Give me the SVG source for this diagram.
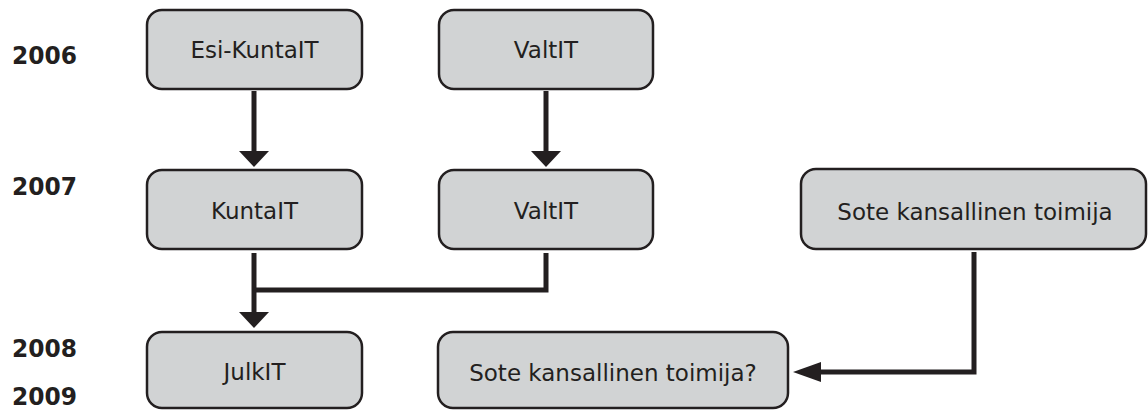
<svg xmlns="http://www.w3.org/2000/svg" width="1148" height="410" viewBox="0 0 1148 410">
<style>
.box{fill:#d1d3d4;stroke:#231f20;stroke-width:2.5}
.lbl{font-family:"DejaVu Sans",Verdana,sans-serif;font-size:23px;fill:#231f20;text-anchor:middle}
.yr{font-family:"DejaVu Sans","Liberation Sans",sans-serif;font-weight:bold;font-size:25px;fill:#231f20}
.ln{fill:none;stroke:#231f20;stroke-width:5;stroke-linejoin:miter}
.ah{fill:#231f20}
</style>
<rect width="1148" height="410" fill="#ffffff"/>
<g id="years">
<text class="yr" x="12" y="64" textLength="65" lengthAdjust="spacingAndGlyphs">2006</text>
<text class="yr" x="12" y="195" textLength="65" lengthAdjust="spacingAndGlyphs">2007</text>
<text class="yr" x="12" y="357" textLength="65" lengthAdjust="spacingAndGlyphs">2008</text>
<text class="yr" x="12" y="405" textLength="65" lengthAdjust="spacingAndGlyphs">2009</text>
</g>
<g id="connectors">
<line class="ln" x1="254" y1="91" x2="254" y2="152"/>
<polygon class="ah" points="239,151 269,151 254,167"/>
<line class="ln" x1="546" y1="91" x2="546" y2="152"/>
<polygon class="ah" points="531,151 561,151 546,167"/>
<polyline class="ln" points="254,253 254,313"/>
<polyline class="ln" points="546,253 546,290 254,290"/>
<polygon class="ah" points="239,312 269,312 254,328"/>
<polyline class="ln" points="974,252 974,372 819,372"/>
<polygon class="ah" points="821,362 821,382 793,372"/>
</g>
<g id="node-esikuntait">
<rect class="box" x="147" y="10" width="215" height="79" rx="15"/>
<text class="lbl" x="254.5" y="58">Esi-KuntaIT</text>
</g>
<g id="node-valtit-2006">
<rect class="box" x="439" y="10" width="214" height="79" rx="15"/>
<text class="lbl" x="546" y="58">ValtIT</text>
</g>
<g id="node-kuntait">
<rect class="box" x="147" y="170" width="215" height="79" rx="15"/>
<text class="lbl" x="254.5" y="219">KuntaIT</text>
</g>
<g id="node-valtit-2007">
<rect class="box" x="439" y="170" width="214" height="79" rx="15"/>
<text class="lbl" x="546" y="219">ValtIT</text>
</g>
<g id="node-sote">
<rect class="box" x="801" y="169" width="345" height="80" rx="15"/>
<text class="lbl" x="975" y="220">Sote kansallinen toimija</text>
</g>
<g id="node-julkit">
<rect class="box" x="147" y="332" width="215" height="76" rx="15"/>
<text class="lbl" x="254.5" y="380">JulkIT</text>
</g>
<g id="node-sote-q">
<rect class="box" x="438" y="332" width="350" height="76" rx="15"/>
<text class="lbl" x="613" y="381">Sote kansallinen toimija?</text>
</g>
</svg>
